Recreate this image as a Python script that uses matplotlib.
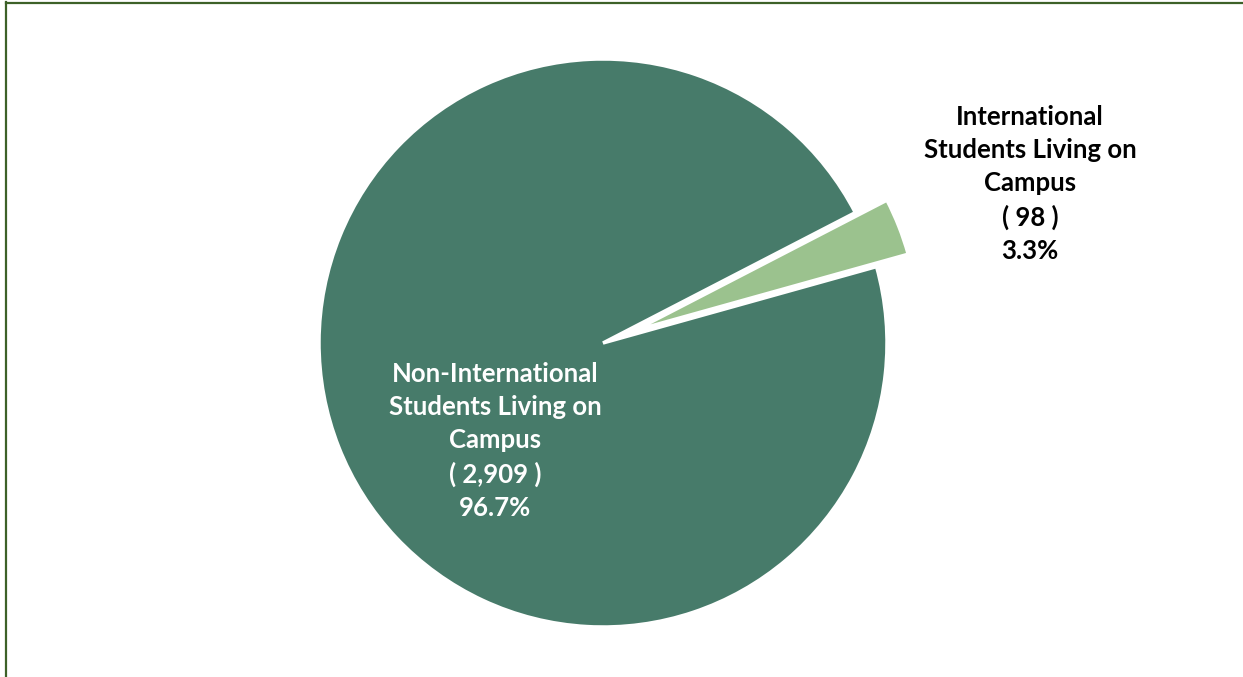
import matplotlib.pyplot as plt
from matplotlib.lines import Line2D

categories = ['International\nStudents Living on\nCampus',
              'Non-International\nStudents Living on\nCampus']
counts = [98, 2909]
colors = ['#9BC28E', '#477B6A']
label_colors = ['black', 'white']

W, H = 1243, 677
fig = plt.figure(figsize=(W / 100, H / 100), dpi=100)
ax = fig.add_axes([0, 0, 1, 1])

# explode is in data units here (pixels), radius 284
ax.pie(counts, colors=colors, startangle=15.6, counterclock=True,
       explode=[34, 0], center=(603, H - 343), radius=284,
       wedgeprops=dict(edgecolor='white', linewidth=2.5), frame=True)
ax.set_xlim(0, W)
ax.set_ylim(0, H)
ax.set_aspect('equal')
ax.axis('off')

total = sum(counts)
label_pos = [(1030, H - 184), (495, H - 441)]
for name, n, (x, y), c in zip(categories, counts, label_pos, label_colors):
    txt = f"{name}\n( {n:,} )\n{100 * n / total:.1f}%"
    ax.text(x, y, txt, ha='center', va='center', color=c, fontsize=18.5,
            fontweight='bold', family='Lato', linespacing=1.45)

# frame lines at top and left
fig.add_artist(Line2D([6 / W, 6 / W], [0, 1 - 2 / H], transform=fig.transFigure,
                      color='#3D6128', linewidth=1.6))
fig.add_artist(Line2D([6 / W, 1], [1 - 2.5 / H, 1 - 2.5 / H], transform=fig.transFigure,
                      color='#3D6128', linewidth=1.6))

fig.savefig('out.png', dpi=100)
